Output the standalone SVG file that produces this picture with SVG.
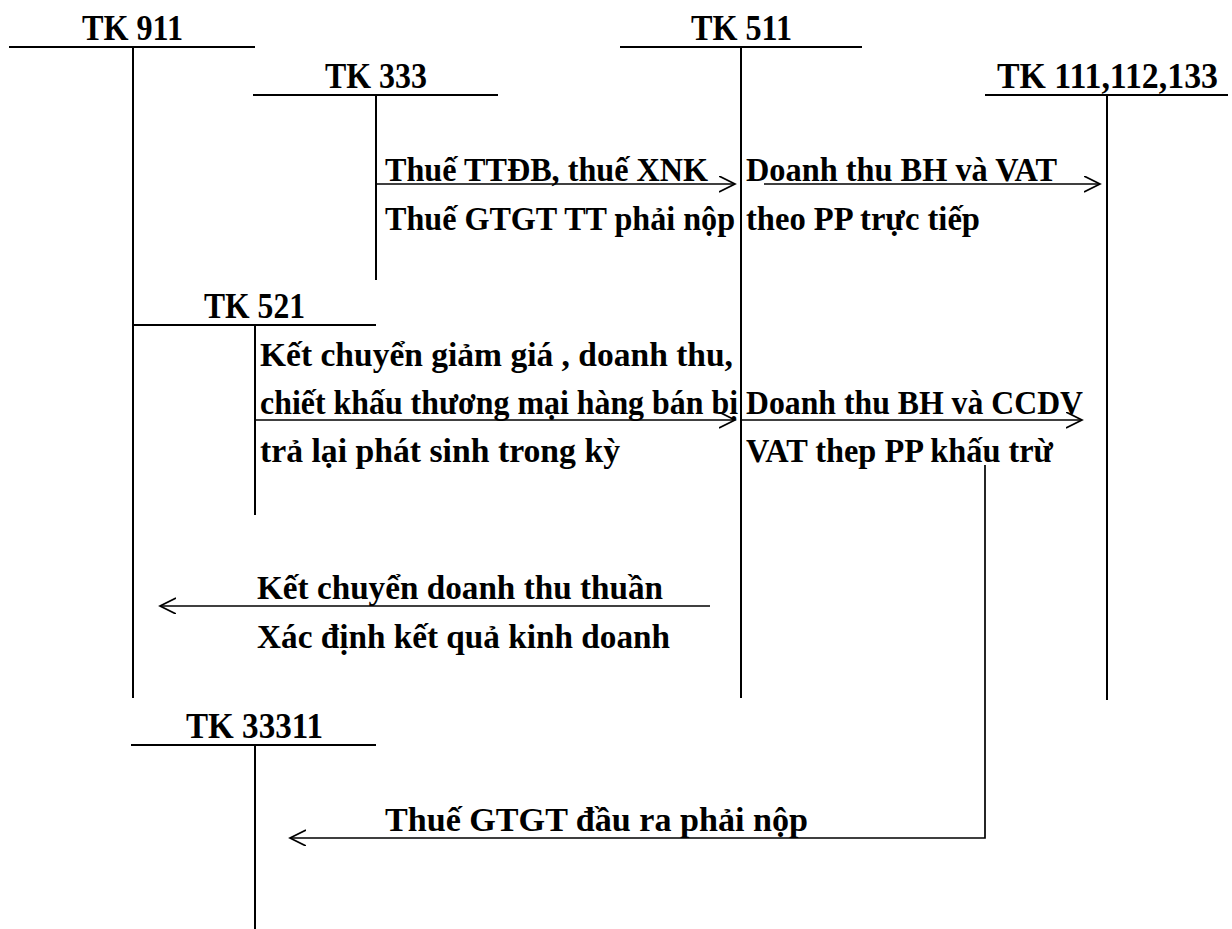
<svg xmlns="http://www.w3.org/2000/svg" width="1232" height="929" viewBox="0 0 1232 929">
<style>
text{font-family:"Liberation Serif","Times New Roman",serif;font-weight:bold;fill:#000}
.h{font-size:35px}
.t{font-size:34px}
.acc{stroke:#000;stroke-width:2;fill:none}
.ar{stroke:#000;stroke-width:1.7;fill:none}
</style>
<defs>
<marker id="ah" markerUnits="userSpaceOnUse" markerWidth="20" markerHeight="20" refX="16" refY="8" orient="auto">
<path d="M0,0 L16,8 L0,16" fill="none" stroke="#000" stroke-width="1.7"/>
</marker>
</defs>
<rect width="1232" height="929" fill="#fff"/>
<g id="tk911">
<text class="h" x="82" y="40" textLength="101" lengthAdjust="spacingAndGlyphs">TK 911</text>
<path class="acc" d="M9,47 H255 M133,47 V698"/>
</g>
<g id="tk333">
<text class="h" x="325" y="88" textLength="102" lengthAdjust="spacingAndGlyphs">TK 333</text>
<path class="acc" d="M253,95 H498 M376,95 V280"/>
</g>
<g id="tk511">
<text class="h" x="691" y="40" textLength="101" lengthAdjust="spacingAndGlyphs">TK 511</text>
<path class="acc" d="M620,47 H862 M741,47 V698"/>
</g>
<g id="tk111">
<text class="h" x="997" y="88" textLength="221" lengthAdjust="spacingAndGlyphs">TK 111,112,133</text>
<path class="acc" d="M985,95 H1228 M1107,95 V700"/>
</g>
<g id="tk521">
<text class="h" x="204" y="318" textLength="101" lengthAdjust="spacingAndGlyphs">TK 521</text>
<path class="acc" d="M133,325 H376 M255,325 V515"/>
</g>
<g id="tk33311">
<text class="h" x="186" y="738" textLength="137" lengthAdjust="spacingAndGlyphs">TK 33311</text>
<path class="acc" d="M131,745 H376 M255,745 V929"/>
</g>
<g id="connectors">
<line class="ar" x1="375" y1="184" x2="735" y2="184" marker-end="url(#ah)"/>
<line class="ar" x1="764" y1="184" x2="1100" y2="184" marker-end="url(#ah)"/>
<line class="ar" x1="255" y1="420" x2="735" y2="420" marker-end="url(#ah)"/>
<line class="ar" x1="741" y1="420" x2="1082" y2="420" marker-end="url(#ah)"/>
<line class="ar" x1="710" y1="606" x2="160" y2="606" marker-end="url(#ah)"/>
<path class="ar" d="M985,465 V838 H290" marker-end="url(#ah)"/>
</g>
<g id="labels">
<text class="t" x="385" y="181" textLength="323" lengthAdjust="spacingAndGlyphs">Thuế TTĐB, thuế XNK</text>
<text class="t" x="385" y="230" textLength="350" lengthAdjust="spacingAndGlyphs">Thuế GTGT TT phải nộp</text>
<text class="t" x="746" y="181" textLength="311" lengthAdjust="spacingAndGlyphs">Doanh thu BH và VAT</text>
<text class="t" x="746" y="230" textLength="234" lengthAdjust="spacingAndGlyphs">theo PP trực tiếp</text>
<text class="t" x="260" y="366" textLength="473" lengthAdjust="spacingAndGlyphs">Kết chuyển giảm giá , doanh thu,</text>
<text class="t" x="260" y="414" textLength="478" lengthAdjust="spacingAndGlyphs">chiết khấu thương mại hàng bán bị</text>
<text class="t" x="260" y="462" textLength="360" lengthAdjust="spacingAndGlyphs">trả lại phát sinh trong kỳ</text>
<text class="t" x="746" y="414" textLength="337" lengthAdjust="spacingAndGlyphs">Doanh thu BH và CCDV</text>
<text class="t" x="746" y="462" textLength="307" lengthAdjust="spacingAndGlyphs">VAT thep PP khấu trừ</text>
<text class="t" x="257" y="599" textLength="406" lengthAdjust="spacingAndGlyphs">Kết chuyển doanh thu thuần</text>
<text class="t" x="257" y="648" textLength="413" lengthAdjust="spacingAndGlyphs">Xác định kết quả kinh doanh</text>
<text class="t" x="385" y="831" textLength="423" lengthAdjust="spacingAndGlyphs">Thuế GTGT đầu ra phải nộp</text>
</g>
</svg>
